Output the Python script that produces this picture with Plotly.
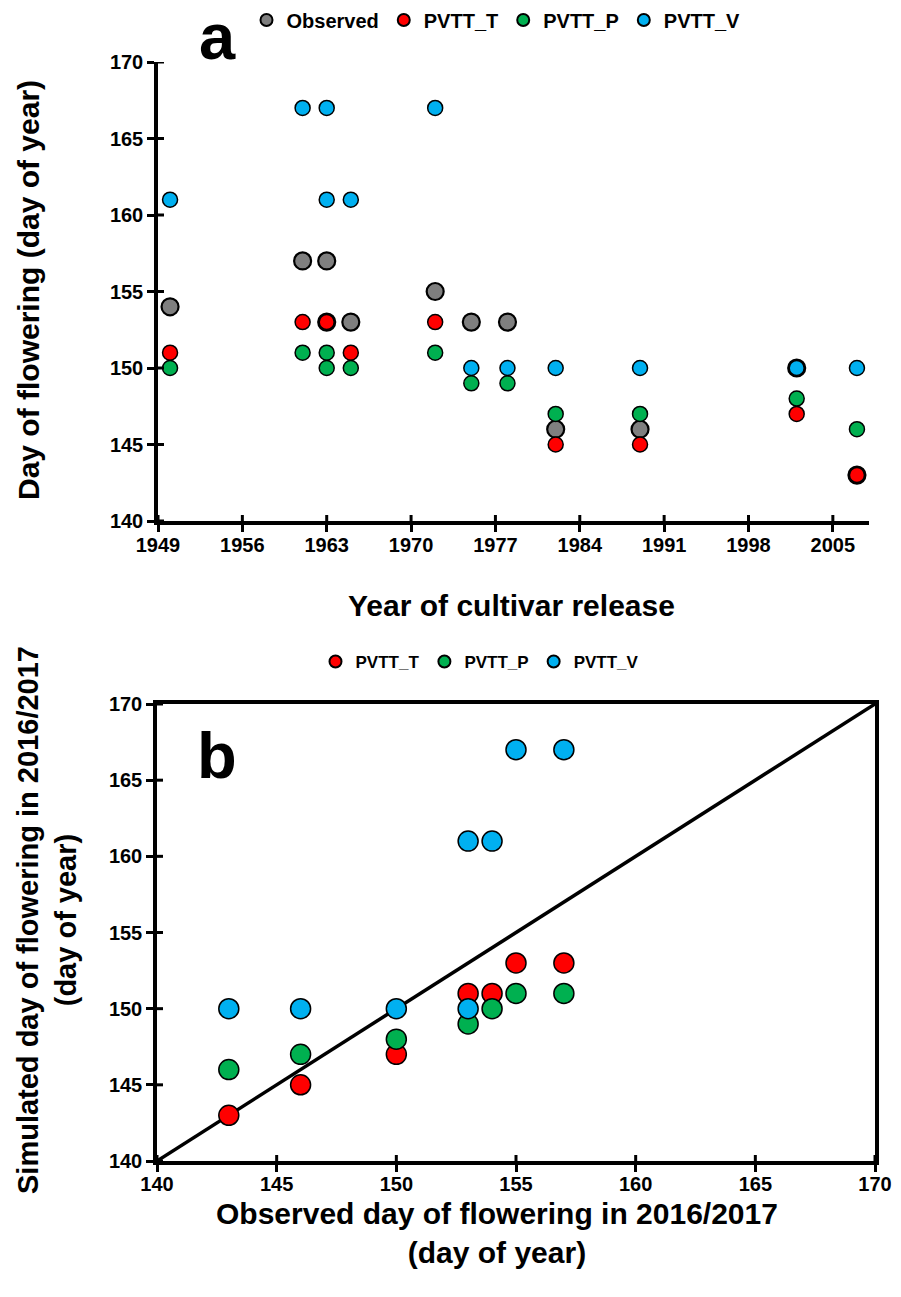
import plotly.graph_objects as go

# ---------------- Panel a data ----------------
obs_years = [1950, 1961, 1963, 1963, 1965, 1972, 1975, 1978, 1982, 1989, 2002, 2007]
obs_days = [154, 157, 157, 153, 153, 155, 153, 153, 146, 146, 150, 143]

t_years = [1950, 1961, 1963, 1965, 1972, 1982, 1989, 2002, 2007]
t_days = [151, 153, 153, 151, 153, 145, 145, 147, 143]

p_years = [1950, 1961, 1963, 1963, 1965, 1972, 1975, 1978, 1982, 1989, 2002, 2007]
p_days = [150, 151, 151, 150, 150, 151, 149, 149, 147, 147, 148, 146]

v_years = [1950, 1961, 1963, 1963, 1965, 1972, 1975, 1978, 1982, 1989, 2002, 2007]
v_days = [161, 167, 167, 161, 161, 167, 150, 150, 150, 150, 150, 150]

year_ticks = [1949, 1956, 1963, 1970, 1977, 1984, 1991, 1998, 2005]
day_ticks = [140, 145, 150, 155, 160, 165, 170]

# ---------------- Panel b data ----------------
b_t_obs = [143, 146, 150, 153, 154, 155, 157]
b_t_sim = [143, 145, 147, 151, 151, 153, 153]
b_p_obs = [143, 146, 150, 153, 154, 155, 157]
b_p_sim = [146, 147, 148, 149, 150, 151, 151]
b_v_obs = [143, 146, 150, 153, 153, 154, 155, 157]
b_v_sim = [150, 150, 150, 150, 161, 161, 167, 167]
one_to_one = [140, 170]

GRAY = "#7f7f7f"
RED = "#ff0000"
GREEN = "#00b050"
BLUE = "#00b0f0"
FONT = "Liberation Sans"

fig = go.Figure()

def mk(color, size, lw):
    return dict(color=color, size=size, line=dict(color="black", width=lw))

# Panel a
fig.add_trace(go.Scatter(x=obs_years, y=obs_days, mode="markers", name="Observed",
                         marker=mk(GRAY, 17, 2.2), xaxis="x", yaxis="y", legend="legend"))
fig.add_trace(go.Scatter(x=t_years, y=t_days, mode="markers", name="PVTT_T",
                         marker=mk(RED, 15, 1.5), xaxis="x", yaxis="y", legend="legend"))
fig.add_trace(go.Scatter(x=p_years, y=p_days, mode="markers", name="PVTT_P",
                         marker=mk(GREEN, 15, 1.5), xaxis="x", yaxis="y", legend="legend"))
fig.add_trace(go.Scatter(x=v_years, y=v_days, mode="markers", name="PVTT_V",
                         marker=mk(BLUE, 15, 1.5), xaxis="x", yaxis="y", legend="legend"))

# Panel b
fig.add_trace(go.Scatter(x=one_to_one, y=one_to_one, mode="lines", showlegend=False,
                         line=dict(color="black", width=3.5), xaxis="x2", yaxis="y2",
                         hoverinfo="skip"))
fig.add_trace(go.Scatter(x=b_t_obs, y=b_t_sim, mode="markers", name="PVTT_T",
                         marker=mk(RED, 20, 1.5), xaxis="x2", yaxis="y2", legend="legend2"))
fig.add_trace(go.Scatter(x=b_p_obs, y=b_p_sim, mode="markers", name="PVTT_P",
                         marker=mk(GREEN, 20, 1.5), xaxis="x2", yaxis="y2", legend="legend2"))
fig.add_trace(go.Scatter(x=b_v_obs, y=b_v_sim, mode="markers", name="PVTT_V",
                         marker=mk(BLUE, 20, 1.5), xaxis="x2", yaxis="y2", legend="legend2"))

W, H = 901, 1297
def px_x(p):
    return p / W
def px_y(p):
    return 1 - p / H

tickfont = dict(family=FONT, size=20, color="black", weight="bold")
axis_common = dict(showline=True, linecolor="black", linewidth=3.5, ticks="outside",
                   ticklen=7, tickwidth=3, tickcolor="black", showgrid=False,
                   zeroline=False, tickfont=tickfont, automargin=False)

legend_common = dict(orientation="h", itemsizing="constant", bgcolor="rgba(0,0,0,0)",
                     xanchor="center", yanchor="middle", itemwidth=30, tracegroupgap=0)

xa_dom = [px_x(158), px_x(869)]
ya_dom = [px_y(521), px_y(62)]
xb_dom = [px_x(157), px_x(875)]
yb_dom = [px_y(1161), px_y(704)]

fig.update_layout(
    template="none",
    width=W, height=H,
    margin=dict(l=0, r=0, t=0, b=0, autoexpand=False),
    paper_bgcolor="white", plot_bgcolor="white",
    font=dict(family=FONT, color="black"),
    xaxis=dict(domain=xa_dom, range=[1949, 2008], tickvals=year_ticks, anchor="y",
               ticklabelstandoff=-4, **axis_common),
    yaxis=dict(domain=ya_dom, range=[140, 170], tickvals=day_ticks, anchor="x", **axis_common),
    xaxis2=dict(domain=xb_dom, range=[140, 170], tickvals=day_ticks, anchor="y2", mirror=True,
                ticklabelstandoff=-5, **axis_common),
    yaxis2=dict(domain=yb_dom, range=[140, 170], tickvals=day_ticks, anchor="x2", mirror=True,
                **axis_common),
    legend=dict(x=px_x(496), y=px_y(20),
                font=dict(family=FONT, size=20, color="black", weight="bold"), **legend_common),
    legend2=dict(x=px_x(480), y=px_y(662),
                 font=dict(family=FONT, size=17, color="black", weight="bold"), **legend_common),
    showlegend=True,
    hovermode=False,
)

# inner half of the crossing tick marks (ticks cross the axis line)
def inner_ticks(xref, yref, xvals, yvals):
    shapes = []
    for v in xvals:
        shapes.append(dict(type="line", xref=xref, yref=yref + " domain", x0=v, x1=v,
                           ysizemode="pixel", yanchor=0, y0=0, y1=6,
                           line=dict(color="black", width=3)))
    for v in yvals:
        shapes.append(dict(type="line", yref=yref, xref=xref + " domain", y0=v, y1=v,
                           xsizemode="pixel", xanchor=0, x0=0, x1=6,
                           line=dict(color="black", width=3)))
    return shapes

shapes = inner_ticks("x", "y", year_ticks, day_ticks) + inner_ticks("x2", "y2", day_ticks, day_ticks)
fig.update_layout(shapes=shapes)

title_font = dict(family=FONT, size=30, color="black", weight="bold")
letter_font = dict(family=FONT, size=65, color="black", weight="bold")
annos = [
    dict(text="a", x=px_x(217), y=px_y(36), font=letter_font),
    dict(text="b", x=px_x(217), y=px_y(755), font=letter_font),
    dict(text="Year of cultivar release", x=px_x(511), y=px_y(605), font=title_font),
    dict(text="Day of flowering (day of year)", x=px_x(28), y=px_y(290), textangle=-90, font=title_font),
    dict(text="Observed day of flowering in 2016/2017<br>(day of year)", x=px_x(497), y=px_y(1233),
         font=title_font),
    dict(text="Simulated day of flowering in 2016/2017<br>(day of year)", x=px_x(47), y=px_y(920),
         textangle=-90, font=dict(family=FONT, size=29, color="black", weight="bold")),
]
for a in annos:
    fig.add_annotation(xref="paper", yref="paper", showarrow=False, xanchor="center",
                       yanchor="middle", **a)

fig.write_html("out.html")
